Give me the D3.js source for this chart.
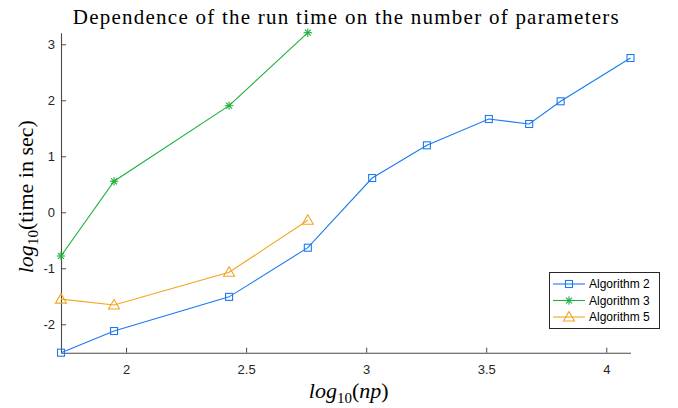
<!DOCTYPE html>
<html>
<head>
<meta charset="utf-8">
<script src="https://cdn.jsdelivr.net/npm/d3@7/dist/d3.min.js"></script>
<style>
  html, body { margin: 0; padding: 0; background: #fff; }
  svg { display: block; }
</style>
</head>
<body>
<svg id="chart" width="678" height="408"></svg>
<script>
// ---- data (log10 np, log10 time in sec) ----
const seriesNames = ["Algorithm 2", "Algorithm 3", "Algorithm 5"];
const x2 = [1.729, 1.95, 2.429, 2.757, 3.025, 3.253, 3.511, 3.679, 3.81, 4.101];
const y2 = [-2.507, -2.12, -1.51, -0.632, 0.612, 1.196, 1.666, 1.577, 1.982, 2.755];
const x3 = [1.729, 1.95, 2.429, 2.757];
const y3 = [-0.78, 0.554, 1.904, 3.207];
const x5 = [1.729, 1.95, 2.429, 2.757];
const y5 = [-1.55, -1.655, -1.07, -0.143];
const xTicks = [2, 2.5, 3, 3.5, 4];
const yTicks = [-2, -1, 0, 1, 2, 3];
const titleText = "Dependence of the run time on the number of parameters";

(function () {
const colors = ["#1c7af2", "#1db03c", "#f0a61c"];
const markers = ["square", "asterisk", "triangle"];

const svg = d3.select("#chart");
const mLeft = 61, mRight = 630.5, mTop = 32.7, mBottom = 352.7;

const allX = x2.concat(x3, x5), allY = y2.concat(y3, y5);
const x = d3.scaleLinear().domain(d3.extent(allX)).range([mLeft, mRight]);
const y = d3.scaleLinear().domain(d3.extent(allY)).range([mBottom, mTop]);

// axes
const axisColor = "#4a4a4a";
const gx = svg.append("g").attr("transform", `translate(0,${mBottom})`)
  .call(d3.axisBottom(x).tickValues(xTicks).tickFormat(d => String(d))
    .tickSizeInner(-5).tickSizeOuter(0).tickPadding(12));
const gy = svg.append("g").attr("transform", `translate(${mLeft},0)`)
  .call(d3.axisLeft(y).tickValues(yTicks).tickFormat(d => String(d))
    .tickSizeInner(-5).tickSizeOuter(0).tickPadding(6));
[gx, gy].forEach(g => {
  g.select(".domain").attr("stroke", axisColor).attr("stroke-width", 1.1);
  g.selectAll(".tick line").attr("stroke", axisColor).attr("stroke-width", 1);
  g.selectAll(".tick text").attr("fill", "#262626")
    .style("font-family", "'Liberation Sans', Arial, Helvetica, sans-serif")
    .style("font-size", "13px");
});

// series
const series = [
  { name: seriesNames[0], xs: x2, ys: y2, color: colors[0], marker: markers[0] },
  { name: seriesNames[1], xs: x3, ys: y3, color: colors[1], marker: markers[1] },
  { name: seriesNames[2], xs: x5, ys: y5, color: colors[2], marker: markers[2] }
];

function drawMarker(g, type, cx, cy, color) {
  if (type === "square") {
    g.append("rect").attr("x", cx - 3.5).attr("y", cy - 3.5).attr("width", 7).attr("height", 7)
      .attr("fill", "none").attr("stroke", color).attr("stroke-width", 1.1);
  } else if (type === "triangle") {
    const p = [[cx, cy - 5.5], [cx - 5.5, cy + 4], [cx + 5.5, cy + 4]];
    g.append("path").attr("d", "M" + p.map(q => q.join(",")).join("L") + "Z")
      .attr("fill", "none").attr("stroke", color).attr("stroke-width", 1.1);
  } else {
    const r = 4.2;
    for (let a = 0; a < 4; a++) {
      const t = a * Math.PI / 4;
      g.append("line").attr("x1", cx - r * Math.cos(t)).attr("y1", cy - r * Math.sin(t))
        .attr("x2", cx + r * Math.cos(t)).attr("y2", cy + r * Math.sin(t))
        .attr("stroke", color).attr("stroke-width", 1.1);
    }
  }
}

const line = d3.line().x(d => x(d[0])).y(d => y(d[1]));
series.forEach(s => {
  const pts = s.xs.map((v, i) => [v, s.ys[i]]);
  const g = svg.append("g");
  g.append("path").datum(pts).attr("d", line).attr("fill", "none")
    .attr("stroke", s.color).attr("stroke-width", 1.1);
  pts.forEach(p => drawMarker(g, s.marker, x(p[0]), y(p[1]), s.color));
});

// title
const serif = "'Liberation Serif', 'Times New Roman', serif";
svg.append("text").attr("x", (mLeft + mRight) / 2).attr("y", 24)
  .attr("text-anchor", "middle").attr("fill", "#000")
  .style("font-family", serif).style("font-size", "21px")
  .attr("textLength", 546).attr("lengthAdjust", "spacing")
  .text(titleText);

// x label
const xl = svg.append("text").attr("x", (mLeft + mRight) / 2 + 3).attr("y", 398)
  .attr("text-anchor", "middle").attr("fill", "#000")
  .style("font-family", serif).style("font-size", "22px");
xl.append("tspan").style("font-style", "italic").text("log");
xl.append("tspan").attr("dy", 5).style("font-size", "15px").text("10");
xl.append("tspan").attr("dy", -5).text("(");
xl.append("tspan").style("font-style", "italic").text("np");
xl.append("tspan").text(")");

// y label
const yl = svg.append("text")
  .attr("transform", `translate(33,${(mTop + mBottom) / 2 + 4}) rotate(-90)`)
  .attr("text-anchor", "middle").attr("fill", "#000")
  .style("font-family", serif).style("font-size", "22px");
yl.append("tspan").style("font-style", "italic").text("log");
yl.append("tspan").attr("dy", 5).style("font-size", "15px").text("10");
yl.append("tspan").attr("dy", -5).text("(time in sec)");

// legend
const lg = svg.append("g");
lg.append("rect").attr("x", 549.5).attr("y", 272.5).attr("width", 110).attr("height", 56)
  .attr("fill", "#fff").attr("stroke", "#262626").attr("stroke-width", 1);
const rowY = [284, 300.5, 317];
series.forEach((s, i) => {
  const yy = rowY[i];
  lg.append("line").attr("x1", 553).attr("x2", 585).attr("y1", yy).attr("y2", yy)
    .attr("stroke", s.color).attr("stroke-width", 1.1);
  drawMarker(lg, s.marker, 569, yy, s.color);
  lg.append("text").attr("x", 589).attr("y", yy + 4.3).attr("fill", "#000")
    .style("font-family", "'Liberation Sans', Arial, Helvetica, sans-serif")
    .style("font-size", "12px").text(s.name);
});
})();
</script>
</body>
</html>
